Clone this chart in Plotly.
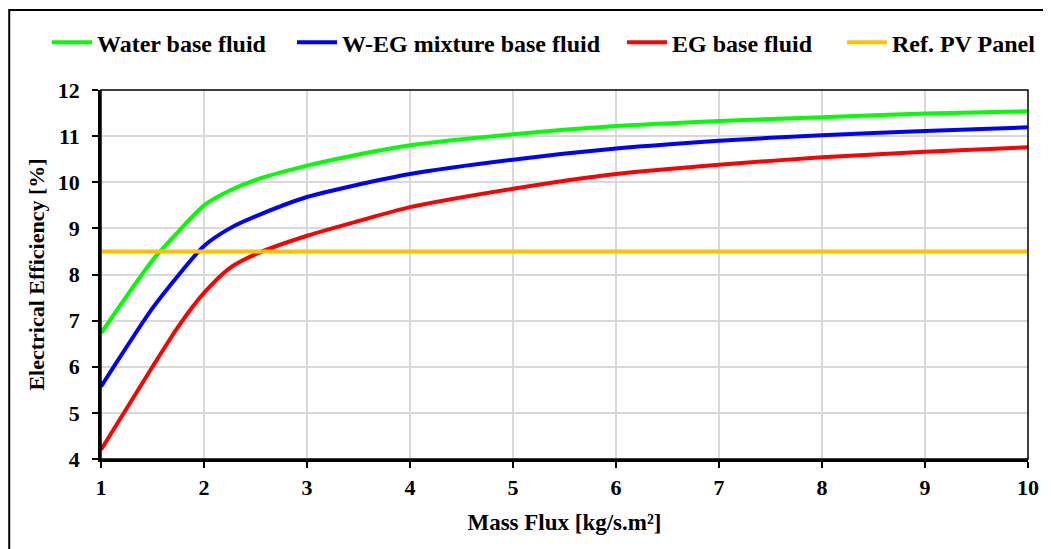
import plotly.graph_objects as go

mass_flux = [1, 1.5, 1.75, 2, 2.25, 2.5, 3, 3.5, 4, 5, 6, 7, 8, 9, 10]
water = [6.73, 8.31, 8.93, 9.5, 9.82, 10.05, 10.36, 10.6, 10.8, 11.04, 11.22, 11.33, 11.41, 11.49, 11.54]
weg = [5.57, 7.27, 7.98, 8.62, 9.0, 9.26, 9.68, 9.95, 10.18, 10.49, 10.73, 10.9, 11.02, 11.11, 11.19]
eg = [4.2, 6.0, 6.87, 7.6, 8.14, 8.44, 8.84, 9.16, 9.46, 9.86, 10.18, 10.38, 10.54, 10.66, 10.76]
ref_x = [1, 10]
ref_pv = [8.5, 8.5]

names = ["Water base fluid", "W-EG mixture base fluid", "EG base fluid", "Ref. PV Panel"]
colors = ["#00FF00", "#0000FF", "#FF0000", "#FFC000"]
legend_ids = ["legend", "legend2", "legend3", "legend4"]
legend_x = [0.0374, 0.2723, 0.5887, 0.7996]

font_family = "Liberation Serif, Times New Roman, serif"

fig = go.Figure()
for ys, nm, c, lg in zip([water, weg, eg], names[:3], colors[:3], legend_ids[:3]):
    fig.add_trace(go.Scatter(x=mass_flux, y=ys, mode="lines", name=nm, legend=lg,
                             line=dict(color=c, width=4, shape="spline", smoothing=0.7)))
fig.add_trace(go.Scatter(x=ref_x, y=ref_pv, mode="lines", name=names[3], legend=legend_ids[3],
                         line=dict(color=colors[3], width=4)))

legend_font = dict(size=24, family=font_family, weight="bold")
legends = {}
for lg, lx in zip(legend_ids, legend_x):
    legends[lg] = dict(orientation="h", xref="container", yref="container",
                       x=lx, y=0.936, xanchor="left", yanchor="middle",
                       font=legend_font, itemwidth=40, bgcolor="rgba(0,0,0,0)")

# page body has an 8px offset; figure is sized so it ends at the window edge
fig.update_layout(
    width=1043, height=541,
    margin=dict(l=93, r=21, t=82, b=90),
    paper_bgcolor="white", plot_bgcolor="white",
    font=dict(family=font_family, color="black"),
    showlegend=True,
    **legends,
)
fig.update_xaxes(range=[1, 10], tickmode="linear", tick0=1, dtick=1,
                 showgrid=True, gridcolor="#D9D9D9", gridwidth=1.5,
                 showline=True, linecolor="black", linewidth=2.5,
                 ticks="outside", ticklen=6, tickwidth=2, tickcolor="black",
                 tickfont=dict(size=22, family=font_family, weight="bold"),
                 ticklabelstandoff=1,
                 title=dict(text="Mass Flux [kg/s.m²]", standoff=15,
                            font=dict(size=23, family=font_family, weight="bold")),
                 zeroline=False)
fig.update_yaxes(range=[4, 12], tickmode="linear", tick0=4, dtick=1,
                 showgrid=True, gridcolor="#D9D9D9", gridwidth=1.5,
                 showline=True, linecolor="black", linewidth=2.5,
                 ticks="outside", ticklen=6, tickwidth=2, tickcolor="black",
                 tickfont=dict(size=22, family=font_family, weight="bold"),
                 ticklabelstandoff=8,
                 title=dict(text="Electrical Efficiency [%]", standoff=8,
                            font=dict(size=22, family=font_family, weight="bold")),
                 zeroline=False)

# plot area border and outer chart frame
fig.add_shape(type="rect", xref="paper", yref="paper", x0=0, y0=0, x1=1, y1=1,
              line=dict(color="black", width=1.5), layer="above")
fig.add_shape(type="rect", xref="paper", yref="paper", x0=-0.099, y0=-0.3, x1=1.04, y1=1.2168,
              line=dict(color="black", width=2), layer="above")

fig.write_html("out.html")
